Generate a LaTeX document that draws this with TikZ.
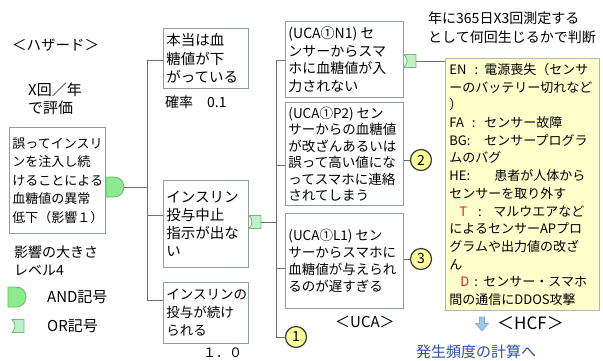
\documentclass[tikz,border=0pt]{standalone}
\usepackage{fontspec}
\setmainfont{Noto Sans CJK JP}
\newcommand\fsz[2]{\fontsize{#1}{#2}\selectfont}
\newcommand\hcfkey[2]{\makebox[#1][l]{#2}}
\definecolor{boxgray}{HTML}{8E9E9E}
\definecolor{linegray}{HTML}{6E6E6E}
\definecolor{andfill}{HTML}{8EEA8E}
\definecolor{andline}{HTML}{5CC060}
\definecolor{orfill}{HTML}{BDF2C4}
\definecolor{orline}{HTML}{78B880}
\definecolor{numfill}{HTML}{FFFF99}
\definecolor{numline}{HTML}{3A3A3A}
\definecolor{hcffill}{HTML}{FFFFCC}
\definecolor{hcfline}{HTML}{B4B4B4}
\definecolor{arrfill}{HTML}{A4C8E2}
\definecolor{arrline}{HTML}{84B0D4}
\definecolor{bluetext}{HTML}{2F4FA8}
\definecolor{redtext}{HTML}{E02020}
\begin{document}
\begin{tikzpicture}[x=1pt,y=-1pt,
  box/.style={draw=boxgray, line width=0.9pt, fill=white, inner sep=3pt, align=left, anchor=north west},
  conn/.style={draw=linegray, line width=0.8pt},
  lbl/.style={inner sep=0pt, anchor=west, align=left},
  num/.style={circle, draw=numline, line width=1.2pt, fill=numfill, minimum size=21pt, inner sep=0pt, font=\fsz{14}{14}},
  andshape/.style={fill=andfill, draw=andline, line width=0.8pt},
  orshape/.style={fill=orfill, draw=orline, line width=0.8pt},
  andgate/.pic={\path[andshape] (0,-10) -- (8,-10) .. controls (21.3,-10) and (21.3,10) .. (8,10) -- (0,10) -- cycle; \coordinate (-out) at (18,0);},
  orgate/.pic={\path[orshape] (0,-6.5) -- (12,-6.5) -- (12,6.5) -- (0,6.5) .. controls (4,3) and (4,-3) .. (0,-6.5) -- cycle; \coordinate (-out) at (12,0);}
]
\useasboundingbox (0,0) rectangle (603,360);
\fill[white] (0,0) rectangle (603,360);

% left texts
\node[lbl, font=\fsz{14.5}{18}] (hz) at (12,45) {＜ハザード＞};
\node[lbl, font=\fsz{15}{18}] (xe) at (28,99) {X回／年\\で評価};
\node[box, text width=90pt, minimum height=106pt, font=\fsz{13}{18.5}] (haz) at (9,127) {誤ってインスリ\\ンを注入し続\\けることによる\\血糖値の異常\\低下（影響１）};
\node[lbl, font=\fsz{14}{18}] (lv) at (14,261) {影響の大きさ\\レベル4};
\pic (andleg) at (8,297) {andgate};
\node[lbl, font=\fsz{15}{18}] (andt) at (47,297) {AND記号};
\pic (orleg) at (12,326) {orgate};
\node[lbl, font=\fsz{15}{18}] (ort) at (47,326) {OR記号};

% AND gate on hazard
\pic (andg) at (haz.east |- 0,187) {andgate};

% second column
\node[box, text width=79pt, minimum height=60pt, font=\fsz{14.5}{18.5}] (b1) at (163,28) {本当は血\\糖値が下\\がっている};
\node[lbl, font=\fsz{14}{18}] (pr) at (165,102) {確率　0.1};
\node[box, text width=79pt, minimum height=87pt, font=\fsz{14.5}{18}] (b2) at (163,180) {インスリン\\投与中止\\指示が出な\\い};
\node[box, text width=79pt, minimum height=61pt, font=\fsz{13.5}{18}] (b3) at (163,282) {インスリンの\\投与が続け\\られる};
\node[lbl, font=\fsz{13}{16}] (one) at (203,353) {１．０};

\coordinate (va) at (147,60);
\coordinate (vc) at (147,215);
\coordinate (vb) at (147,300);
\draw[conn] (andg-out) -- (andg-out -| va);
\draw[conn] (va) -- (vb);
\draw[conn] (va) -- (va -| b1.west);
\draw[conn] (vc) -- (vc -| b2.west);
\draw[conn] (vb) -- (vb -| b3.west);

\pic (org2) at (b2.east |- 0,222) {orgate};

% UCA column
\node[box, text width=112pt, minimum height=76pt, font=\fsz{14}{17.5}] (n1) at (285,21) {(UCA①N1)\hspace{3pt}セ\\ンサーからスマ\\ホに血糖値が入\\力されない};
\node[box, text width=112pt, minimum height=103pt, font=\fsz{13.5}{16.5}] (p2) at (285,102) {(UCA①P2)\hspace{3pt}セン\\サーからの血糖値\\が改ざんあるいは\\誤って高い値にな\\ってスマホに連絡\\されてしまう};
\node[box, text width=112pt, minimum height=95pt, font=\fsz{13.5}{16.8}] (l1) at (285,213) {(UCA①L1)\hspace{3pt}セン\\サーからスマホに\\血糖値が与えられ\\るのが遅すぎる};
\node[lbl, font=\fsz{15}{18}] (uca) at (335,322) {＜UCA＞};

\node[num] (c1) at (296,337) {1};
\node[num] (c2) at (421,160) {2};
\node[num] (c3) at (421,259) {3};

\coordinate (ua) at (276,60);
\coordinate (uc) at (276,165);
\coordinate (ud) at (276,268);
\coordinate (ub) at (276,337);
\draw[conn] (org2-out) -- (org2-out -| ua);
\draw[conn] (ua) -- (ub);
\draw[conn] (ua) -- (ua -| n1.west);
\draw[conn] (uc) -- (uc -| p2.west);
\draw[conn] (ud) -- (ud -| l1.west);
\draw[conn] (ub) -- (c1.west);
\draw[conn] (p2.east |- c2) -- (c2.west);
\draw[conn] (l1.east |- c3) -- (c3.west);

\pic (orn1) at (n1.east |- 0,61) {orgate};

% HCF
\node[lbl, font=\fsz{14}{19}] (note) at (428,27.5) {年に365日X3回測定する\\として何回生じるかで判断};
\node[box, draw=hcfline, fill=hcffill, inner sep=4pt, text width=146pt, minimum height=252pt, font=\fsz{13}{17.7}] (hcf) at (445,58) {\hcfkey{35pt}{EN\hspace{8pt}:}電源喪失（センサ\\ーのバッテリー切れなど\\）\\\hcfkey{35pt}{FA\hspace{8pt}:}センサー故障\\\hcfkey{35pt}{BG:}センサープログラ\\ムのバグ\\\hcfkey{45pt}{HE:}患者が人体から\\センサーを取り外す\\\hcfkey{44pt}{\hspace{10pt}\textcolor{redtext}{T}\hspace{11pt}:}マルウエアなど\\によるセンサーAPプロ\\グラムや出力値の改ざ\\ん\\\hcfkey{34pt}{\hspace{11pt}\textcolor{redtext}{D}\hspace{5pt}:}センサー・スマホ\\間の通信にDDOS攻撃};
\draw[conn] (orn1-out) -- (orn1-out -| hcf.west);

\path[fill=arrfill, draw=arrline, line width=0.6pt] (479.5,317) -- (484.5,317) -- (484.5,323.5) -- (488.5,323.5) -- (482,331) -- (475.5,323.5) -- (479.5,323.5) -- cycle;
\node[lbl, font=\fsz{17}{18}] (hcft) at (497,323) {＜HCF＞};
\node[lbl, font=\fsz{15}{18}, text=bluetext] (calc) at (416,352) {発生頻度の計算へ};
\end{tikzpicture}
\end{document}
